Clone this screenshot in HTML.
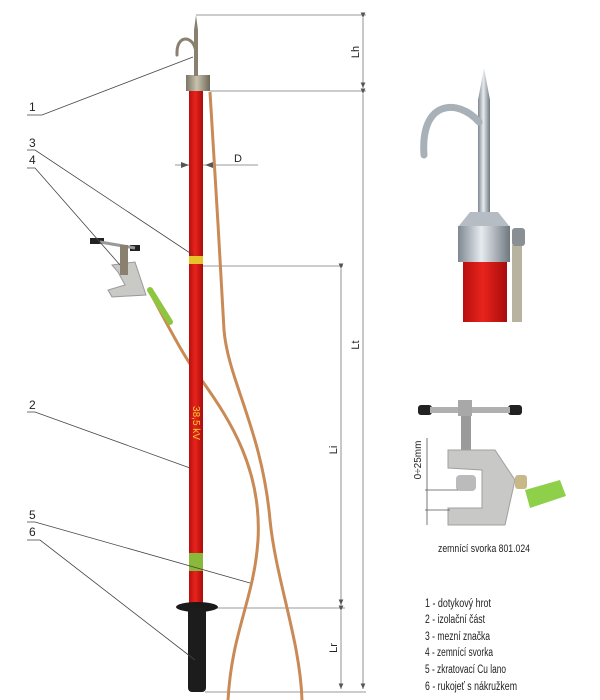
<!DOCTYPE html>
<html><head><meta charset="utf-8"><style>
html,body{margin:0;padding:0;background:#fff;width:600px;height:700px;overflow:hidden}
svg{display:block}
text{font-family:"Liberation Sans Narrow","Liberation Sans",sans-serif;fill:#222}
</style></head><body>
<svg width="600" height="700" viewBox="0 0 600 700" xmlns="http://www.w3.org/2000/svg">
<defs>
<linearGradient id="red" x1="0" x2="1"><stop offset="0" stop-color="#b80f0f"/><stop offset=".45" stop-color="#e8241c"/><stop offset="1" stop-color="#a80c0c"/></linearGradient>
<linearGradient id="met" x1="0" x2="1"><stop offset="0" stop-color="#7f8790"/><stop offset=".45" stop-color="#e6ebef"/><stop offset="1" stop-color="#6f7780"/></linearGradient>
<linearGradient id="fit" x1="0" x2="1"><stop offset="0" stop-color="#7d7565"/><stop offset=".45" stop-color="#c8c2ae"/><stop offset="1" stop-color="#6f6858"/></linearGradient>
<marker id="ar" markerWidth="8" markerHeight="8" refX="7" refY="3" orient="auto"><path d="M0,0 L7,3 L0,6z" fill="#555"/></marker>
</defs>

<g stroke="#777" stroke-width="0.8" fill="none">
<line x1="196" y1="15" x2="366" y2="15"/>
<line x1="210" y1="91" x2="366" y2="91"/>
<line x1="203" y1="266" x2="343" y2="266"/>
<line x1="215" y1="608" x2="345" y2="608"/>
<line x1="205" y1="692" x2="366" y2="692"/>
<line x1="363" y1="18" x2="363" y2="88" marker-start="url(#ar)" marker-end="url(#ar)"/>
<line x1="363" y1="94" x2="363" y2="689" marker-start="url(#ar)" marker-end="url(#ar)"/>
<line x1="341" y1="269" x2="341" y2="605" marker-start="url(#ar)" marker-end="url(#ar)"/>
<line x1="341" y1="611" x2="341" y2="689" marker-start="url(#ar)" marker-end="url(#ar)"/>
<line x1="175" y1="165" x2="258" y2="165"/>
</g>
<path d="M181,162 L189,165 L181,168z M213,162 L205,165 L213,168z" fill="#555"/>
<text x="234" y="162" font-size="11">D</text>
<g font-size="11">
<text transform="translate(359,52) rotate(-90)" text-anchor="middle">Lh</text>
<text transform="translate(359,345) rotate(-90)" text-anchor="middle">Lt</text>
<text transform="translate(337,450) rotate(-90)" text-anchor="middle">Li</text>
<text transform="translate(337,648) rotate(-90)" text-anchor="middle">Lr</text>
</g>

<g fill="none" stroke="#c98a55" stroke-width="3">
<path d="M210,92 C214,150 220,260 224,330 C228,380 262,430 270,520 C276,580 300,640 302,700"/>
<path d="M150,292 C165,320 185,360 203,382 C230,420 262,470 258,540 C254,600 232,630 228,700"/>
</g>
<path d="M150,290 L170,322" stroke="#8ec63f" stroke-width="6" stroke-linecap="round"/>

<rect x="189" y="90" width="14" height="517" fill="url(#red)"/>
<rect x="189" y="256" width="14" height="8" fill="#e8c22a"/>
<rect x="189" y="553" width="14" height="18" fill="#8ab83a"/>
<text transform="translate(193,423) rotate(90)" font-size="10" text-anchor="middle" style="fill:#f0d030">38,5 kV</text>
<ellipse cx="197" cy="607" rx="21" ry="5" fill="#1a1a1a"/>
<rect x="188" y="608" width="18" height="84" rx="4" fill="#1c1c1c"/>
<rect x="186" y="75" width="24" height="16" fill="url(#fit)"/>
<path d="M196,15 L198,30 L198,76 L194,76 L194,30z" fill="#8a8070"/>
<path d="M195,48 C192,36 176,34 177,55" fill="none" stroke="#8a8070" stroke-width="3" stroke-linecap="round"/>

<g>
<rect x="90" y="238" width="14" height="6" fill="#222"/>
<rect x="130" y="245" width="10" height="6" fill="#222"/>
<line x1="100" y1="242" x2="135" y2="248" stroke="#9a9a9a" stroke-width="3"/>
<path d="M112,265 L135,262 L146,295 L112,297 L108,290 L125,285 L118,272z" fill="#c9c9c6" stroke="#999"/>
<rect x="120" y="245" width="8" height="30" fill="#8a8070"/>
</g>

<g stroke="#444" stroke-width="0.8" fill="none">
<polyline points="27,115 42,115 193,57"/>
<polyline points="27,150 35,150 193,255"/>
<polyline points="27,168 35,168 120,265"/>
<polyline points="27,412 35,412 190,468"/>
<polyline points="27,522 35,522 250,583"/>
<polyline points="27,540 40,540 195,660"/>
</g>
<g font-size="12">
<text x="29" y="111">1</text>
<text x="29" y="147">3</text>
<text x="29" y="164">4</text>
<text x="29" y="409">2</text>
<text x="29" y="519">5</text>
<text x="29" y="536">6</text>
</g>

<rect x="463" y="258" width="44" height="64" fill="url(#red)"/>
<rect x="512" y="245" width="10" height="77" fill="#b8b2a0"/>
<path d="M484,68 L490,100 L490,212 L478,212 L478,100z" fill="url(#met)"/>
<path d="M479,122 C458,98 420,100 424,155" fill="none" stroke="#a8b0b8" stroke-width="7" stroke-linecap="round"/>
<path d="M470,212 L498,212 L510,227 L458,227z" fill="#b5bcc3"/>
<rect x="458" y="226" width="52" height="36" fill="url(#met)"/>
<rect x="512" y="228" width="13" height="18" rx="3" fill="#8a8f94"/>

<g>
<rect x="418" y="405" width="14" height="10" rx="3" fill="#222"/>
<rect x="508" y="405" width="14" height="10" rx="3" fill="#222"/>
<rect x="430" y="407" width="80" height="6" fill="#b0b0b0"/>
<rect x="458" y="400" width="14" height="16" fill="#a8a8a8"/>
<rect x="461" y="416" width="10" height="40" fill="#9a9a9a"/>
<path d="M448,450 L495,450 L515,480 L505,525 L448,525 L448,508 L482,508 L482,470 L448,468z" fill="#c8c8c6" stroke="#a0a0a0"/>
<rect x="456" y="475" width="20" height="16" rx="4" fill="#bbb"/>
<rect x="515" y="475" width="12" height="14" rx="3" fill="#c8b888"/>
<path d="M525,490 L560,480 L566,496 L530,508z" fill="#8ed04a"/>
<line x1="427" y1="438" x2="427" y2="525" stroke="#555" stroke-width="0.8"/>
<line x1="425" y1="490" x2="458" y2="490" stroke="#555" stroke-width="0.8"/>
<line x1="425" y1="510" x2="450" y2="510" stroke="#555" stroke-width="0.8"/>
<text transform="translate(421,460) rotate(-90)" font-size="10" text-anchor="middle">0÷25mm</text>
</g>
<text x="438" y="552" font-size="11" textLength="92" lengthAdjust="spacingAndGlyphs">zemnící svorka 801.024</text>

<g font-size="11.5">
<text x="425" y="607" textLength="66" lengthAdjust="spacingAndGlyphs">1 - dotykový hrot</text>
<text x="425" y="623" textLength="60" lengthAdjust="spacingAndGlyphs">2 -  izolační část</text>
<text x="425" y="640" textLength="65" lengthAdjust="spacingAndGlyphs">3 - mezní značka</text>
<text x="425" y="656" textLength="68" lengthAdjust="spacingAndGlyphs">4 - zemnící svorka</text>
<text x="425" y="673" textLength="81" lengthAdjust="spacingAndGlyphs">5 - zkratovací Cu lano</text>
<text x="425" y="690" textLength="92" lengthAdjust="spacingAndGlyphs">6 - rukojeť s nákružkem</text>
</g>
</svg>
</body></html>
